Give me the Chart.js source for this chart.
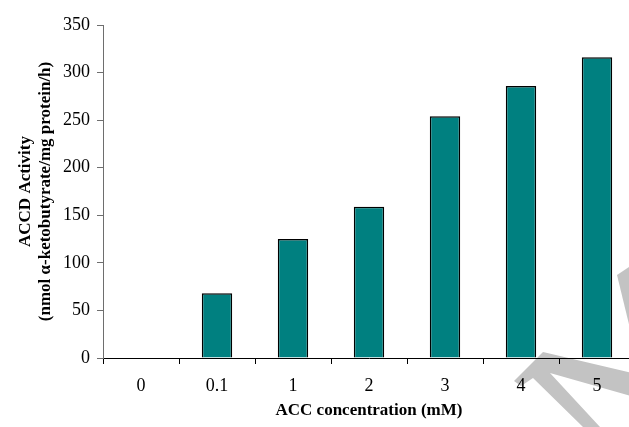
<!DOCTYPE html>
<html>
<head>
<meta charset="utf-8">
<script src="https://cdn.jsdelivr.net/npm/chart.js@4/dist/chart.umd.min.js"></script>
<style>
  html, body { margin: 0; padding: 0; background: #fff; overflow: hidden; }
  #wrap { width: 645px; height: 427px; }
</style>
</head>
<body>
<div id="wrap"><canvas id="accdChart" width="645" height="427"></canvas></div>
<script>
// Datos
const concentraciones = ['0', '0.1', '1', '2', '3', '4', '5'];
const actividad = [0, 68, 125, 159, 254, 286, 316];
const yMin = 0;
const yMax = 350;
const yPaso = 50;

const serif = "'Liberation Serif', 'Times New Roman', serif";

// Marca de agua gris (decoración del recorte original, no son datos)
// Se pinta debajo de todo: ejes y etiquetas quedan por encima
const marcaAgua = {
  id: 'marcaAgua',
  beforeDraw(chart) {
    const ctx = chart.ctx;
    const figura = (pts) => {
      ctx.beginPath();
      ctx.moveTo(pts[0][0], pts[0][1]);
      for (let i = 1; i < pts.length; i++) ctx.lineTo(pts[i][0], pts[i][1]);
      ctx.closePath();
      ctx.fill();
    };
    ctx.save();
    ctx.fillStyle = '#c3c3c3';
    figura([[543, 352], [645, 376], [645, 400], [550, 373], [600, 427], [583, 427],
            [533, 378], [521, 386], [514, 381]]);
    figura([[617, 275], [629, 267], [634, 267], [634, 345]]);
    ctx.restore();
  }
};

function inicializarGrafica() {
  const ctx = document.getElementById('accdChart');
  new Chart(ctx, {
    type: 'bar',
    data: {
      labels: concentraciones,
      datasets: [{
        data: actividad,
        backgroundColor: '#008080',
        borderColor: '#000000',
        borderWidth: 1.5,
        borderSkipped: 'start',
        barPercentage: 0.4,
        categoryPercentage: 1.0
      }]
    },
    options: {
      responsive: false,
      animation: false,
      devicePixelRatio: 1,
      layout: {
        padding: { top: 25, right: 10, bottom: 0, left: 0 }
      },
      plugins: {
        legend: { display: false },
        tooltip: { enabled: false }
      },
      scales: {
        x: {
          afterFit(scale) { scale.height = 69; },
          grid: {
            drawOnChartArea: false,
            tickLength: 6,
            color: '#000000'
          },
          border: { color: '#000000', width: 1 },
          ticks: {
            color: '#000000',
            padding: 11,
            font: { family: serif, size: 18 }
          },
          title: {
            display: true,
            text: 'ACC concentration (mM)',
            color: '#000000',
            padding: { top: 0, bottom: 6 },
            font: { family: serif, size: 17, weight: 'bold', lineHeight: 1.2 }
          }
        },
        y: {
          min: yMin,
          max: yMax,
          afterFit(scale) { scale.width = 103; },
          grid: {
            drawOnChartArea: false,
            tickLength: 6,
            color: '#6e6e6e'
          },
          border: { color: '#6e6e6e', width: 1 },
          ticks: {
            stepSize: yPaso,
            color: '#000000',
            padding: 7,
            font: { family: serif, size: 18 }
          },
          title: {
            display: true,
            text: ['ACCD Activity', '(nmol α-ketobutyrate/mg protein/h)'],
            color: '#000000',
            padding: { top: 16, bottom: 0 },
            font: { family: serif, size: 17, weight: 'bold', lineHeight: 1.18 }
          }
        }
      }
    },
    plugins: [marcaAgua]
  });
}

inicializarGrafica();
</script>
</body>
</html>
